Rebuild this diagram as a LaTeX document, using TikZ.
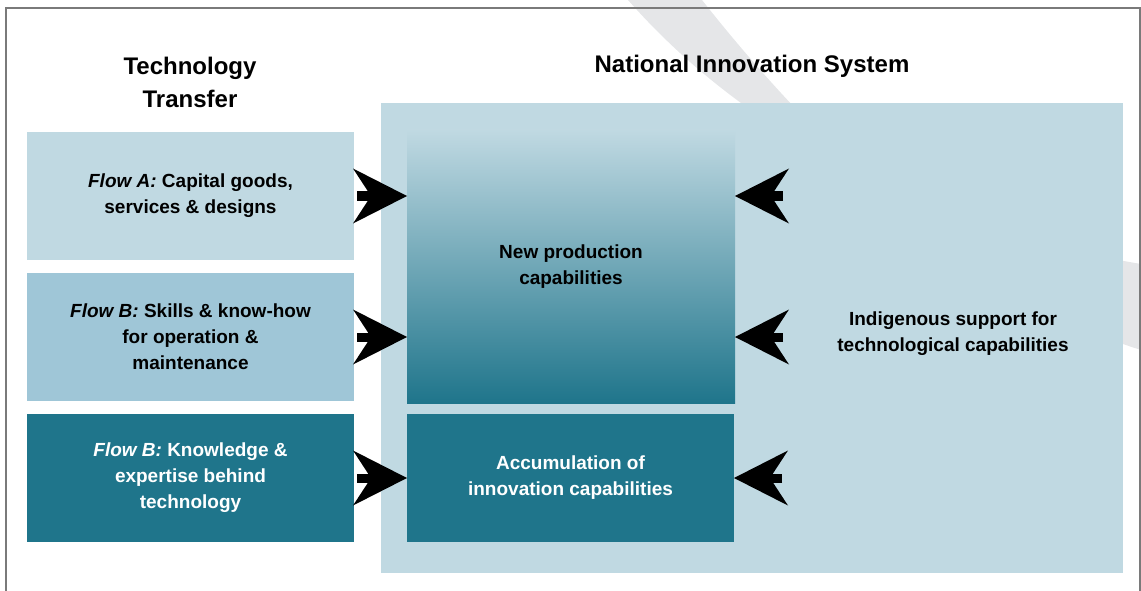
\documentclass[tikz,border=0pt]{standalone}
\usepackage{fontspec}
\setmainfont{Liberation Sans}
\usepackage{tikz}
\usetikzlibrary{arrows.meta}
\definecolor{nisblue}{HTML}{C0D9E2}
\definecolor{flowblue}{HTML}{9FC6D7}
\definecolor{deepteal}{HTML}{1F758B}
\definecolor{swoosh}{HTML}{E5E6E8}
\definecolor{framegray}{HTML}{7A7A7A}

\begin{document}
\begin{tikzpicture}[x=1pt, y=-1pt,
	box/.style={inner sep=0pt, outer sep=0pt, minimum width=327pt, minimum height=128pt, align=center, font=\fontsize{19}{26}\selectfont\bfseries},
	heading/.style={align=center, font=\fontsize{24}{33}\selectfont\bfseries},
	fatarrow/.style={line width=9pt, -{Stealth[length=54pt, width=55pt, inset=18pt, line width=0pt]}}]
	\useasboundingbox (0,0) rectangle (1141,591);
	% grey swoosh behind everything
	\fill[swoosh] (628,0) .. controls (760,150) and (950,232) .. (1141,264) -- (1141,350) .. controls (980,300) and (820,150) .. (702,0) -- cycle;
	\draw[framegray, line width=2.5pt] (6,591) -- (6,8) -- (1140,8) -- (1140,591);

	\node[heading] (tt) at (190,82) {Technology\\Transfer};
	\node[heading] (nis) at (752,66) {National Innovation System};

	\node[box, fill=nisblue, minimum width=742pt, minimum height=470pt] (nisbox) at (752,338) {};
	\node[box] (indig) at (953,334) {Indigenous support for\\technological capabilities};

	% transfer flows
	\node[box, fill=nisblue] (flowA) at (190.5,196) {\textit{Flow A:} Capital goods,\\services \& designs};
	\node[box, fill=flowblue] (flowB) at (190.5,337) {\textit{Flow B:} Skills \& know-how\\for operation \&\\maintenance};
	\node[box, fill=deepteal, text=white] (flowC) at (190.5,478) {\textit{Flow B:} Knowledge \&\\expertise behind\\technology};

	\node[box, top color=nisblue, bottom color=deepteal, minimum width=328pt, minimum height=273pt] (newprod) at (571,266.5) {New production\\capabilities};
	\node[box, fill=deepteal, text=white] (accum) at (570.5,478) {Accumulation of\\innovation capabilities};

	\draw[fatarrow] ([xshift=3pt]flowA.east) -- (newprod.west |- flowA.east);
	\draw[fatarrow] ([xshift=3pt]flowB.east) -- (newprod.west |- flowB.east);
	\draw[fatarrow] ([xshift=3pt]flowC.east) -- (accum.west |- flowC.east);
	\draw[fatarrow] ([xshift=48pt]newprod.east |- flowA.east) -- (newprod.east |- flowA.east);
	\draw[fatarrow] ([xshift=48pt]newprod.east |- flowB.east) -- (newprod.east |- flowB.east);
	\draw[fatarrow] ([xshift=48pt]accum.east) -- (accum.east);
\end{tikzpicture}
\end{document}
